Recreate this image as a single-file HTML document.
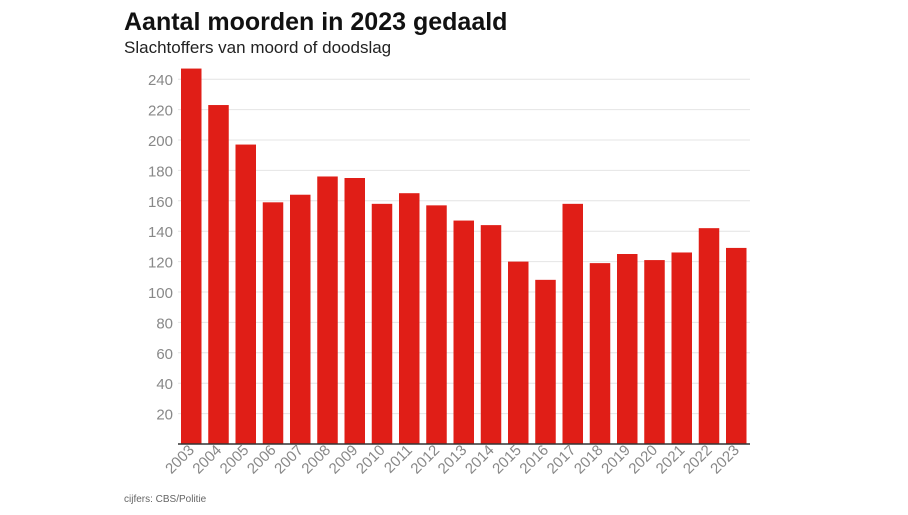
<!DOCTYPE html>
<html><head><meta charset="utf-8"><style>
body{margin:0;background:#fff;width:908px;height:510px;overflow:hidden;font-family:"Liberation Sans",sans-serif}
</style></head><body>
<svg width="908" height="510" xmlns="http://www.w3.org/2000/svg" font-family="Liberation Sans, sans-serif">
<text x="124" y="30" font-size="25" font-weight="bold" fill="#111">Aantal moorden in 2023 gedaald</text>
<text x="124" y="53" font-size="17" fill="#222">Slachtoffers van moord of doodslag</text>
<g stroke="#e4e4e4" stroke-width="1">
<line x1="178" x2="750" y1="413.6" y2="413.6"/><line x1="178" x2="750" y1="383.2" y2="383.2"/>
<line x1="178" x2="750" y1="352.8" y2="352.8"/><line x1="178" x2="750" y1="322.4" y2="322.4"/>
<line x1="178" x2="750" y1="292" y2="292"/><line x1="178" x2="750" y1="261.6" y2="261.6"/>
<line x1="178" x2="750" y1="231.2" y2="231.2"/><line x1="178" x2="750" y1="200.8" y2="200.8"/>
<line x1="178" x2="750" y1="170.4" y2="170.4"/><line x1="178" x2="750" y1="140" y2="140"/>
<line x1="178" x2="750" y1="109.6" y2="109.6"/><line x1="178" x2="750" y1="79.2" y2="79.2"/>
</g>
<g font-size="15" fill="#888" text-anchor="end">
<text x="173" y="419.6">20</text><text x="173" y="389.2">40</text><text x="173" y="358.8">60</text>
<text x="173" y="328.4">80</text><text x="173" y="298">100</text><text x="173" y="267.6">120</text>
<text x="173" y="237.2">140</text><text x="173" y="206.8">160</text><text x="173" y="176.4">180</text>
<text x="173" y="146">200</text><text x="173" y="115.6">220</text><text x="173" y="85.2">240</text>
</g>
<g fill="#e01e17">
<rect x="181" y="68.56" width="20.5" height="375.44"/>
<rect x="208.25" y="105.04" width="20.5" height="338.96"/>
<rect x="235.5" y="144.56" width="20.5" height="299.44"/>
<rect x="262.75" y="202.32" width="20.5" height="241.68"/>
<rect x="290" y="194.72" width="20.5" height="249.28"/>
<rect x="317.25" y="176.48" width="20.5" height="267.52"/>
<rect x="344.5" y="178" width="20.5" height="266"/>
<rect x="371.75" y="203.84" width="20.5" height="240.16"/>
<rect x="399" y="193.2" width="20.5" height="250.8"/>
<rect x="426.25" y="205.36" width="20.5" height="238.64"/>
<rect x="453.5" y="220.56" width="20.5" height="223.44"/>
<rect x="480.75" y="225.12" width="20.5" height="218.88"/>
<rect x="508" y="261.6" width="20.5" height="182.4"/>
<rect x="535.25" y="279.84" width="20.5" height="164.16"/>
<rect x="562.5" y="203.84" width="20.5" height="240.16"/>
<rect x="589.75" y="263.12" width="20.5" height="180.88"/>
<rect x="617" y="254" width="20.5" height="190"/>
<rect x="644.25" y="260.08" width="20.5" height="183.92"/>
<rect x="671.5" y="252.48" width="20.5" height="191.52"/>
<rect x="698.75" y="228.16" width="20.5" height="215.84"/>
<rect x="726" y="247.92" width="20.5" height="196.08"/>
</g>
<line x1="178" y1="444" x2="750" y2="444" stroke="#333" stroke-width="1.5"/>
<g font-size="15" fill="#888" text-anchor="end">
<text x="195" y="451" transform="rotate(-45 195 451)">2003</text>
<text x="222.25" y="451" transform="rotate(-45 222.25 451)">2004</text>
<text x="249.5" y="451" transform="rotate(-45 249.5 451)">2005</text>
<text x="276.75" y="451" transform="rotate(-45 276.75 451)">2006</text>
<text x="304" y="451" transform="rotate(-45 304 451)">2007</text>
<text x="331.25" y="451" transform="rotate(-45 331.25 451)">2008</text>
<text x="358.5" y="451" transform="rotate(-45 358.5 451)">2009</text>
<text x="385.75" y="451" transform="rotate(-45 385.75 451)">2010</text>
<text x="413" y="451" transform="rotate(-45 413 451)">2011</text>
<text x="440.25" y="451" transform="rotate(-45 440.25 451)">2012</text>
<text x="467.5" y="451" transform="rotate(-45 467.5 451)">2013</text>
<text x="494.75" y="451" transform="rotate(-45 494.75 451)">2014</text>
<text x="522" y="451" transform="rotate(-45 522 451)">2015</text>
<text x="549.25" y="451" transform="rotate(-45 549.25 451)">2016</text>
<text x="576.5" y="451" transform="rotate(-45 576.5 451)">2017</text>
<text x="603.75" y="451" transform="rotate(-45 603.75 451)">2018</text>
<text x="631" y="451" transform="rotate(-45 631 451)">2019</text>
<text x="658.25" y="451" transform="rotate(-45 658.25 451)">2020</text>
<text x="685.5" y="451" transform="rotate(-45 685.5 451)">2021</text>
<text x="712.75" y="451" transform="rotate(-45 712.75 451)">2022</text>
<text x="740" y="451" transform="rotate(-45 740 451)">2023</text>
</g>
<text x="124" y="502" font-size="10" fill="#666">cijfers: CBS/Politie</text>
</svg>
</body></html>
